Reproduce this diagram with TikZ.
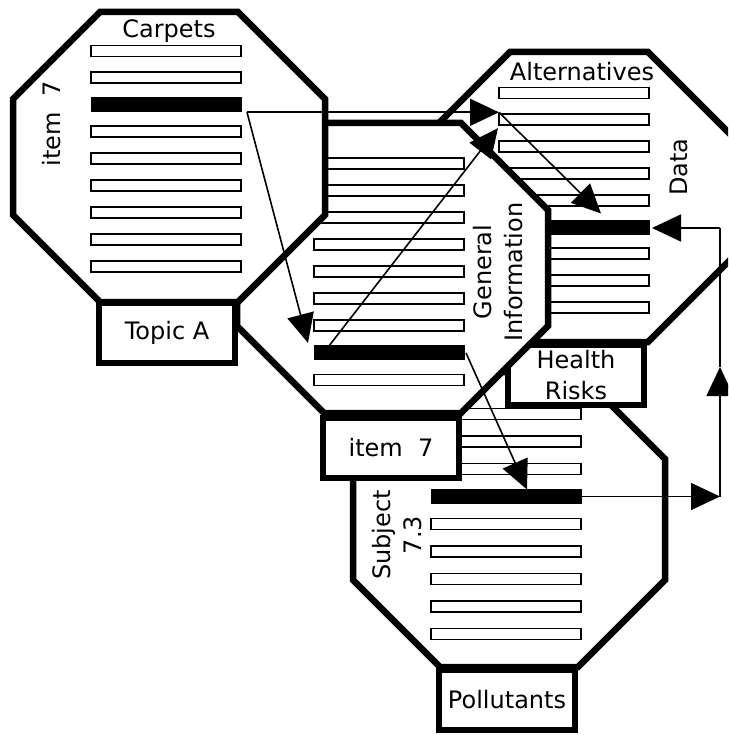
\documentclass[tikz,border=0pt]{standalone}
\usepackage{fontspec}
\setmainfont{DejaVu Sans}
\usetikzlibrary{arrows.meta}
\newcommand\labfont{\fontsize{24}{31}\selectfont}
\newcommand\octagon[5]{%
  \draw[oct] (#1+#5,#2) -- (#3-#5,#2) -- (#3,#2+#5) -- (#3,#4-#5) -- (#3-#5,#4) -- (#1+#5,#4) -- (#1,#4-#5) -- (#1,#2+#5) -- cycle;}
\tikzset{
  oct/.style={draw=black, fill=white, line width=6.5pt, line join=miter},
  wbar/.style={draw=black, fill=white, line width=1.8pt, minimum width=150pt, minimum height=11pt, inner sep=0pt, outer sep=0pt},
  bbar/.style={draw=black, fill=black, line width=1pt, minimum width=150pt, minimum height=14pt, inner sep=0pt, outer sep=0pt},
  labbox/.style={draw=black, fill=white, line width=5.5pt, minimum width=136pt, minimum height=60pt, inner sep=0pt, font=\labfont, align=center},
  lbl/.style={font=\labfont, inner sep=0pt, align=center},
  conn/.style={line width=1.6pt, -{Triangle[length=29pt,width=27pt]}},
  plain/.style={line width=1.6pt},
}
\begin{document}
\begin{tikzpicture}[x=1pt,y=-1pt]
\useasboundingbox (0,0) rectangle (728,735);
\fill[white] (0,0) rectangle (728,735);
\clip (0,0) rectangle (728,735);

% ---- bottom octagon (Subject 7.3)
\octagon{353}{372}{665}{667}{87}
\foreach \i in {0,1,2,4,5,6,7,8} \node[wbar] (s\i) at (506,414+27.5*\i) {};
\node[bbar] (sb) at (506,414+27.5*3) {};
\node[lbl, rotate=90] (subj) at (397,535) {Subject\\7.3};
\node[labbox] (poll) at (507,700) {Pollutants};

% ---- right octagon (Alternatives / Data)
\octagon{423}{52}{735}{342}{87}
\foreach \i in {0,1,2,3,4,6,7,8} \node[wbar] (r\i) at (574,93+26.8*\i) {};
\node[bbar] (rb) at (574,93+26.8*5) {};
\node[lbl] (alt) at (582,72) {Alternatives};
\node[lbl, rotate=90] (data) at (679,167) {Data};
\node[labbox] (health) at (576,375) {Health\\Risks};

% ---- middle octagon (General Information)
\octagon{237}{123}{548}{413}{87}
\foreach \i in {0,...,6,8} \node[wbar] (m\i) at (389,163.5+27.06*\i) {};
\node[bbar] (mb) at (389,163.5+27.06*7) {};
\node[lbl, rotate=90] (geninfo) at (498,272) {General\\Information};
\node[labbox] (item) at (391,448) {item~ 7};

% ---- Carpets octagon
\octagon{13}{12}{325}{302}{87}
\foreach \i in {0,1,3,4,5,6,7,8} \node[wbar] (c\i) at (166,51+26.9*\i) {};
\node[bbar] (cb) at (166,51+26.9*2) {};
\node[lbl] (carp) at (169,31) {Carpets};
\node[lbl, rotate=90] (item7) at (52,124) {item~ 7};
\node[labbox] (topic) at (167,333) {Topic A};

% ---- connectors
\coordinate (c1) at ([xshift=6pt,yshift=-0.5pt]cb.south east);
\coordinate (t1) at ([yshift=1pt]r1.north west);
\coordinate (t2) at ([xshift=-6pt,yshift=3pt]mb.north west);
\coordinate (t3) at ([xshift=102pt,yshift=6.5pt]rb.north west);
\coordinate (m1) at ([xshift=15pt]mb.north west);
\coordinate (t4) at ([xshift=-1pt,yshift=13pt]r2.north west);
\coordinate (m2) at ([xshift=2pt]mb.east);
\coordinate (t5) at ([xshift=96pt]sb.north west);
\coordinate (b1) at (sb.east);
\coordinate (q1) at (720,502);
\coordinate (q2) at (720,367);
\coordinate (q3) at (720,228);
\coordinate (t6) at ([xshift=3pt]rb.east);

\draw[conn] (c1) -- (t1 |- c1);
\draw[conn] (c1) -- (t2);
\draw[conn] (t1 |- c1) -- (t3);
\draw[conn] (m1) -- (t4);
\draw[conn] (m2) -- (t5);
\draw[conn] (b1) -- (b1 -| q1);
\draw[conn] (b1 -| q1) -- (q2);
\draw[plain] (q2) -- (q3);
\draw[conn] (q3) -- (t6 |- q3);
\end{tikzpicture}
\end{document}
